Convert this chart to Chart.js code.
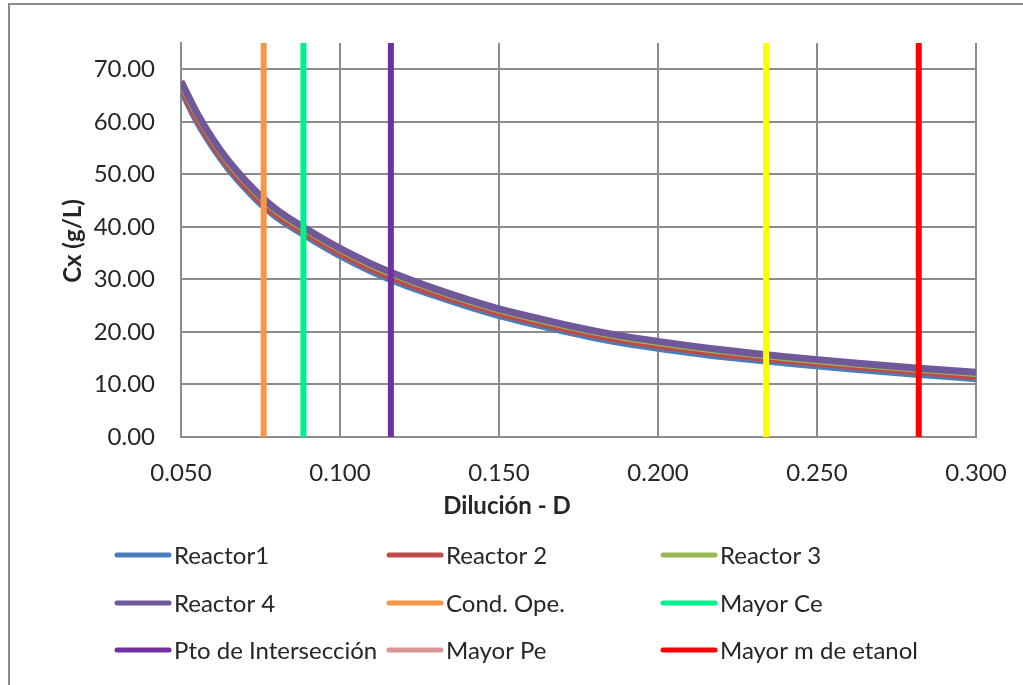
<!DOCTYPE html>
<html>
<head>
<meta charset="utf-8">
<script src="https://cdn.jsdelivr.net/npm/chart.js@4.4.0/dist/chart.umd.min.js"></script>
<style>
  html, body { margin: 0; padding: 0; background: #ffffff; }
  canvas { display: block; }
</style>
</head>
<body>
<canvas id="chart" width="1023" height="685"></canvas>
<script>
// Dilution rate D (1/h) at which each reactor's biomass was evaluated
const dilucion = [0.05, 0.055, 0.06, 0.065, 0.07, 0.075, 0.08, 0.09, 0.10, 0.11, 0.12, 0.13,
                  0.14, 0.15, 0.16, 0.17, 0.18, 0.19, 0.20, 0.22, 0.24, 0.26, 0.28, 0.30];

// Biomass concentration Cx (g/L) for each reactor
const reactor1 = [66.1, 60.1, 55.2, 51.0, 47.5, 44.4, 41.9, 38.0, 34.5, 31.5, 29.0, 26.9,
                  24.9, 23.1, 21.6, 20.2, 18.9, 17.8, 16.9, 15.3, 14.1, 13.0, 12.0, 11.1];
const reactor2 = [66.6, 60.6, 55.7, 51.5, 48.0, 44.9, 42.3, 38.5, 35.0, 32.0, 29.5, 27.3,
                  25.4, 23.6, 22.1, 20.7, 19.4, 18.3, 17.4, 15.8, 14.6, 13.5, 12.5, 11.5];
const reactor3 = [67.5, 61.5, 56.5, 52.3, 48.8, 45.7, 43.1, 39.2, 35.7, 32.7, 30.2, 28.0,
                  26.0, 24.2, 22.7, 21.3, 20.0, 18.9, 18.0, 16.4, 15.1, 14.0, 13.0, 12.1];
const reactor4 = [67.7, 61.7, 56.7, 52.5, 49.0, 45.9, 43.3, 39.4, 35.9, 32.9, 30.4, 28.2,
                  26.2, 24.4, 22.9, 21.5, 20.2, 19.1, 18.2, 16.6, 15.3, 14.2, 13.2, 12.3];

const reactorNames = ['Reactor1', 'Reactor 2', 'Reactor 3', 'Reactor 4'];
const reactorSeries = [reactor1, reactor2, reactor3, reactor4];

// Characteristic dilution rates, drawn as vertical reference lines
const markerNames = ['Cond. Ope.', 'Mayor Ce', 'Pto de Intersección', 'Mayor Pe', 'Mayor m de etanol'];
const markerD = [0.076, 0.0885, 0.116, 0.234, 0.282];

// Axis ranges
const xMin = 0.05, xMax = 0.30, xStep = 0.05;
const yMin = 0, yMax = 75, yStep = 10, yLastTick = 70;

// Styles
const reactorColors = ['#4A7EBB', '#BE4B48', '#98B954', '#71589A'];
const markerColors = ['#F79646', '#00F08A', '#7030A0', '#FFFF00', '#FF0000'];
const markerLegendColors = ['#F79646', '#00F08A', '#7030A0', '#D99694', '#FF0000'];
const gridColor = '#8C8C8C';
const textColor = '#262626';
const fontFamily = 'Lato, "Open Sans", sans-serif';

const datasets = [];
reactorSeries.forEach((vals, i) => {
  datasets.push({
    label: reactorNames[i],
    data: dilucion.map((d, k) => ({ x: d, y: vals[k] })),
    borderColor: reactorColors[i],
    legendColor: reactorColors[i],
    borderWidth: 7,
    pointRadius: 0,
    cubicInterpolationMode: 'monotone',
    fill: false
  });
});
markerD.forEach((d, i) => {
  datasets.push({
    label: markerNames[i],
    data: [{ x: d, y: yMin }, { x: d, y: yMax }],
    borderColor: markerColors[i],
    legendColor: markerLegendColors[i],
    borderWidth: 6,
    borderCapStyle: 'butt',
    pointRadius: 0,
    fill: false
  });
});
// later series are painted above earlier ones
datasets.forEach((ds, i) => { ds.order = datasets.length - i; });

// Outer frame of the chart
const framePlugin = {
  id: 'frame',
  beforeDraw(chart) {
    const ctx = chart.ctx;
    ctx.save();
    ctx.fillStyle = '#ffffff';
    ctx.fillRect(0, 0, chart.width, chart.height);
    ctx.strokeStyle = gridColor;
    ctx.lineWidth = 2;
    ctx.strokeRect(9, 4, chart.width + 20, chart.height + 20);
    ctx.restore();
  }
};

// Axis titles
const titlesPlugin = {
  id: 'axisTitles',
  afterDraw(chart) {
    const ctx = chart.ctx;
    ctx.save();
    ctx.fillStyle = textColor;
    ctx.font = 'bold 24px ' + fontFamily;
    ctx.textAlign = 'center';
    ctx.textBaseline = 'alphabetic';
    ctx.fillText('Dilución - D', 507, 514);
    ctx.translate(81, 241);
    ctx.rotate(-Math.PI / 2);
    ctx.fillText('Cx (g/L)', 0, 0);
    ctx.restore();
  }
};

// Three-column legend under the plot
const legendPlugin = {
  id: 'gridLegend',
  afterDraw(chart) {
    const ctx = chart.ctx;
    const colX = [115, 387, 661];
    const rowY = [555, 603, 650];
    const lineLen = 56;
    ctx.save();
    ctx.font = '24px ' + fontFamily;
    ctx.textAlign = 'left';
    ctx.textBaseline = 'alphabetic';
    chart.data.datasets.forEach((ds, i) => {
      const x = colX[i % 3];
      const y = rowY[Math.floor(i / 3)];
      ctx.strokeStyle = ds.legendColor;
      ctx.lineWidth = 5;
      ctx.lineCap = 'round';
      ctx.beginPath();
      ctx.moveTo(x + 2, y);
      ctx.lineTo(x + lineLen - 2, y);
      ctx.stroke();
      ctx.fillStyle = textColor;
      ctx.fillText(ds.label, x + lineLen + 3, y + 8.6);
    });
    ctx.restore();
  }
};

new Chart(document.getElementById('chart'), {
  type: 'line',
  data: { datasets },
  options: {
    responsive: false,
    animation: false,
    devicePixelRatio: 1,
    layout: { padding: { top: 43, right: 47, left: 0, bottom: 0 } },
    plugins: { legend: { display: false }, tooltip: { enabled: false } },
    scales: {
      x: {
        type: 'linear',
        min: xMin,
        max: xMax,
        ticks: {
          stepSize: xStep,
          padding: 22,
          color: textColor,
          font: { family: fontFamily, size: 24 },
          maxRotation: 0,
          callback: v => Number(v).toFixed(3)
        },
        grid: { color: gridColor, lineWidth: 2, drawTicks: false },
        border: { color: gridColor, width: 2 },
        afterFit(scale) {
          scale.height = 685 - 437;
          scale.paddingLeft = 0;
          scale.paddingRight = 0;
        }
      },
      y: {
        type: 'linear',
        min: yMin,
        max: yMax,
        afterBuildTicks(scale) {
          const ticks = [];
          for (let v = yMin; v <= yLastTick; v += yStep) ticks.push({ value: v });
          scale.ticks = ticks;
        },
        ticks: {
          stepSize: yStep,
          padding: 26,
          color: textColor,
          font: { family: fontFamily, size: 24 },
          callback: v => Number(v).toFixed(2)
        },
        grid: { color: gridColor, lineWidth: 2, drawTicks: false },
        border: { color: gridColor, width: 2 },
        afterFit(scale) {
          scale.width = 181;
          scale.paddingTop = 0;
          scale.paddingBottom = 0;
        }
      }
    }
  },
  plugins: [framePlugin, titlesPlugin, legendPlugin]
});
</script>
</body>
</html>
